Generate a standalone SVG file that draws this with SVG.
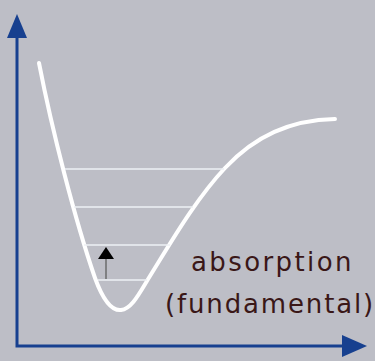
<svg xmlns="http://www.w3.org/2000/svg" width="375" height="361" viewBox="0 0 375 361">
<style>
.axis{stroke:#17408f;stroke-width:3;fill:none}
.head{fill:#17408f}
.level{stroke:#eef0f4;stroke-width:1.6}
.lbl{font-family:"DejaVu Sans",sans-serif;font-size:26px;fill:#3a1717;letter-spacing:2.4px}
</style>
<rect width="375" height="361" fill="#bdbec6"/>
<g id="axes">
<path class="axis" d="M17,36 V346 H344"/>
<polygon class="head" points="17,14 7,38 27,38"/>
<polygon class="head" points="367,346 342,335 342,357"/>
</g>
<g id="curve">
<path d="M39,63 C52,130 75,220 95,278 C103,300 112,311 121,310 C132,309 140,292 150,276 C170,244 195,200 225,168 C255,136 290,120 335,119" fill="none" stroke="#ffffff" stroke-width="4" stroke-linecap="round"/>
</g>
<g id="levels">
<line class="level" x1="65" y1="169" x2="224" y2="169"/>
<line class="level" x1="74" y1="207" x2="193" y2="207"/>
<line class="level" x1="84" y1="245" x2="170" y2="245"/>
<line class="level" x1="98" y1="280" x2="147" y2="280"/>
</g>
<g id="transition">
<line x1="106" y1="279" x2="106" y2="258" stroke="#6b6b6b" stroke-width="1.5"/>
<polygon points="106,247 98,259 114,259" fill="#000"/>
</g>
<g id="label">
<text class="lbl" x="191" y="271">absorption</text>
<text class="lbl" x="165" y="313" style="letter-spacing:1.85px">(fundamental)</text>
</g>
</svg>
